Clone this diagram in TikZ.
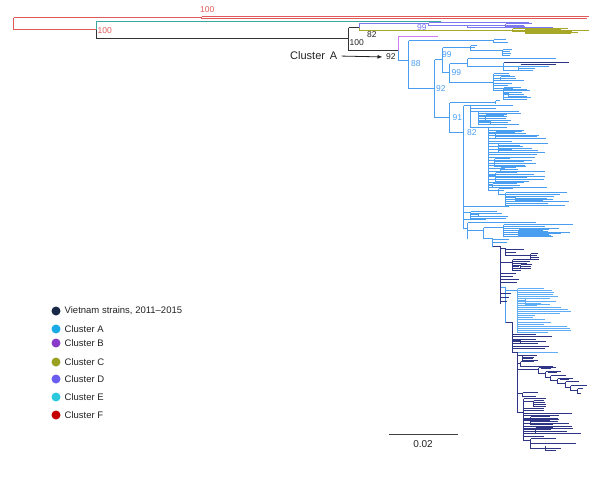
\documentclass[tikz,border=0pt]{standalone}
\usepackage{fontspec}
\setmainfont{Liberation Sans}
\usetikzlibrary{arrows.meta}
\definecolor{tF}{HTML}{E05A5A}
\definecolor{tE}{HTML}{3AA8A0}
\definecolor{tD}{HTML}{7B78F0}
\definecolor{tC}{HTML}{A8A828}
\definecolor{tB}{HTML}{D07CF0}
\definecolor{tA}{HTML}{4A9EF0}
\definecolor{tL}{HTML}{5FAEF5}
\definecolor{tN}{HTML}{2E3585}
\definecolor{tK}{HTML}{333333}
\definecolor{lN}{HTML}{1A2848}
\definecolor{lA}{HTML}{1AAAE8}
\definecolor{lB}{HTML}{8A3CC8}
\definecolor{lC}{HTML}{9AA020}
\definecolor{lD}{HTML}{6B5CF0}
\definecolor{lE}{HTML}{2EC8DC}
\definecolor{lF}{HTML}{C40000}
\definecolor{txt}{HTML}{222222}
% comb: vertical at x=#1 from #2 to #3, #4 leaves ending between #5 and #6
\newcommand\cmb[6]{%
  \draw[lc] (#1,#2) -- (#1,#3);
  \foreach \i in {1,...,#4}{%
    \pgfmathsetmacro\yy{round(#2+(\i-1)*(#3-#2)/max(#4-1,1))}%
    \pgfmathsetmacro\xe{round(#5+rnd*(#6-#5))}%
    \draw[lc] (#1,\yy) -- (\xe,\yy);
  }%
}
% sub: stem from (#1,#2) to x=#3, then comb at #3
\newcommand\sub[8]{%
  \draw[lc] (#1,#2) -- (#3,#2);
  \cmb{#3}{#4}{#5}{#6}{#7}{#8}%
}
\tikzset{
  lc/.style={},
  br/.style={line width=1.2pt, lc/.style={draw=#1}, every path/.style={draw=#1}},
  bs/.style={font=\fontsize{8.5}{10}\selectfont, inner sep=0pt, anchor=west},
  dot/.style={circle, minimum size=9pt, inner sep=0pt},
  lg/.style={font=\fontsize{9.5}{11}\selectfont, text=txt, inner sep=0pt, anchor=west}
}
\begin{document}
\begin{tikzpicture}[x=1pt,y=-1pt]
\pgfmathsetseed{7}
\useasboundingbox (0,0) rectangle (600,498);
\begin{scope}[shift={(0.5,0.5)}]
% ---- outgroups
\begin{scope}[br=tF]
  \draw (13,17) -- (13,29) -- (96,29);
  \draw (13,17) -- (201,17);
  \draw (201,16) -- (201,18);
  \draw (201,16) -- (588,16);
  \draw (201,18) -- (586,18);
\end{scope}
\begin{scope}[br=tE]
  \draw (96,29) -- (96,21) -- (440,21);
\end{scope}
\begin{scope}[br=tK]
  \draw (96,29) -- (96,38) -- (348,38);
  \draw (348,27) -- (348,50);
  \draw (348,27) -- (359,27);
  \draw (348,50) -- (398,50);
\end{scope}
% ---- cluster D
\begin{scope}[br=tD]
  \draw (359,27) -- (359,23) -- (428,23);
  \draw (428,22) -- (428,25);
  \draw (428,22) -- (528,22);
  \draw (428,25) -- (467,25);
  \draw (467,25) -- (467,27) -- (552,27);
  \cmb{505}{23}{26}{3}{522}{532}
  \draw (467,25) -- (505,25);
\end{scope}
% ---- cluster C
\begin{scope}[br=tC]
  \draw (359,27) -- (359,30) -- (588,30);
  \draw (512,28) -- (512,31);
  \draw (512,28) -- (525,28);
  \cmb{525}{28}{33}{6}{558}{578}
  \draw (512,31) -- (525,31);
\end{scope}
% ---- cluster B
\begin{scope}[br=tB]
  \draw (398,50) -- (398,36) -- (437,36);
\end{scope}
% ---- cluster A
\begin{scope}[br=tA]
  \draw (398,50) -- (398,60) -- (408,60);
  \draw (408,40) -- (408,88);
  \draw (408,40) -- (493,40);
  \draw (493,39) -- (493,42);
  \draw (493,39) -- (505,39);
  \draw (493,42) -- (507,42);
  \draw (408,88) -- (434,88);
  \draw (434,59) -- (434,117);
  \draw (434,59) -- (442,59);
  \draw (442,47) -- (442,72);
  \draw (442,47) -- (470,47);
  \draw (470,45) -- (470,50);
  \draw (470,45) -- (476,45);
  \draw (470,47) -- (474,47);
  \draw (470,50) -- (502,50);
  \cmb{502}{49}{55}{4}{507}{512}
  \draw (442,72) -- (449,72);
  \draw (449,63) -- (449,82);
  \draw (449,63) -- (467,63);
  \draw (467,58) -- (467,66);
  \draw (467,58) -- (555,58);
  \draw (467,66) -- (503,66);
  \draw (503,62) -- (503,70);
  \draw (503,66) -- (548,66);
  \draw (518,66) -- (518,70);
  \cmb{518}{68}{70}{2}{528}{540}
  \draw (503,70) -- (518,70);
  \draw (449,82) -- (493,82);
  \cmb{493}{73}{90}{8}{505}{535}
  \sub{493}{78}{500}{76}{80}{3}{512}{525}
  \draw (493,90) -- (503,90);
  \cmb{503}{87}{99}{6}{512}{530}
  \sub{503}{93}{508}{92}{96}{3}{515}{528}
  \draw (434,117) -- (449,117);
  \draw (449,102) -- (449,132);
  \draw (449,102) -- (495,102);
  \draw (495,100) -- (495,103);
  \draw (495,100) -- (499,100);
  \draw (449,132) -- (463,132);
  \draw (463,105) -- (463,228);
  % subclade at 470
  \draw (463,105) -- (470,105);
  \draw (470,105) -- (470,127);
  \draw (470,105) -- (512,105);
  \draw (470,108) -- (495,108);
  \draw (470,111) -- (478,111);
  \cmb{478}{111}{124}{7}{498}{522}
  \sub{478}{116}{485}{114}{120}{4}{498}{506}
  \sub{478}{121}{490}{120}{124}{3}{505}{518}
  \draw (470,127) -- (488,127);
  \cmb{488}{127}{190}{24}{503}{548}
  \sub{488}{133}{495}{131}{138}{4}{515}{545}
  \sub{488}{146}{498}{143}{152}{5}{518}{542}
  \sub{488}{160}{494}{158}{166}{4}{508}{525}
  \sub{488}{168}{500}{167}{171}{3}{515}{532}
  \sub{488}{175}{495}{172}{181}{5}{510}{535}
  \sub{488}{184}{492}{183}{187}{3}{505}{520}
  \draw (488,190) -- (498,190);
  \draw (498,188) -- (498,194);
  \draw (498,188) -- (512,188);
  \draw (498,194) -- (505,194);
  \cmb{505}{192}{205}{7}{545}{573}
  \sub{505}{197}{515}{196}{200}{3}{540}{560}
  \draw (463,206) -- (508,206);
  \draw (463,212) -- (470,212);
  \cmb{470}{211}{218}{4}{495}{525}
  \sub{470}{214}{478}{213}{216}{2}{500}{510}
  \draw (463,219) -- (485,219);
  \draw (463,228) -- (467,228);
  \draw (467,222) -- (467,238);
  \draw (467,222) -- (535,222);
  \draw (467,230) -- (483,230);
  \draw (483,227) -- (483,238);
  \draw (483,227) -- (503,227);
  \cmb{503}{224}{236}{7}{540}{573}
  \sub{503}{232}{518}{229}{235}{4}{545}{562}
  \draw (483,238) -- (492,238);
  \draw (492,238) -- (492,246);
  \draw (492,239) -- (508,239);
  \draw (492,242) -- (506,242);
  \draw (500,287) -- (505,287);
  \draw (505,287) -- (505,322);
  \draw (505,290) -- (517,290);
\end{scope}
\begin{scope}[br=tL]
  \cmb{517}{288}{332}{22}{530}{575}
  \sub{517}{300}{525}{298}{304}{3}{540}{555}
  \draw (512,352) -- (557,352);
\end{scope}
% ---- Vietnam strains (navy)
\begin{scope}[br=tN]
  \draw (503,62) -- (568,62);
  \draw (520,64) -- (555,64);
  \draw (492,246) -- (500,246);
  \draw (500,246) -- (500,303);
  \draw (500,248) -- (505,248);
  \draw (505,248) -- (505,255);
  \draw (505,249) -- (523,249);
  \draw (505,252) -- (515,252);
  \draw (505,255) -- (530,255);
  \cmb{530}{253}{259}{4}{536}{540}
  \draw (500,262) -- (512,262);
  \cmb{512}{259}{270}{6}{518}{533}
  \sub{512}{265}{520}{264}{268}{3}{528}{534}
  \draw (500,273) -- (515,273);
  \draw (500,276) -- (512,276);
  \draw (500,279) -- (518,279);
  \draw (500,282) -- (516,282);
  \draw (500,293) -- (510,293);
  \draw (500,297) -- (508,297);
  \draw (500,301) -- (506,301);
  \draw (505,322) -- (512,322);
  \draw (512,322) -- (512,352);
  \cmb{512}{334}{348}{7}{525}{555}
  \sub{512}{340}{520}{339}{343}{3}{535}{550}
  \draw (512,352) -- (517,352);
  \draw (517,352) -- (517,412);
  \draw (517,355) -- (522,355);
  \cmb{522}{355}{360}{4}{530}{537}
  \draw (517,363) -- (520,363);
  \draw (520,361) -- (520,366);
  \draw (520,361) -- (533,361);
  \draw (520,366) -- (552,366);
  \draw (517,369) -- (538,369);
  \draw (538,367) -- (538,373);
  \draw (538,367) -- (555,367);
  \draw (538,373) -- (545,373);
  \draw (545,371) -- (545,377);
  \draw (545,371) -- (560,371);
  \draw (545,377) -- (550,377);
  \draw (550,375) -- (550,380);
  \draw (550,375) -- (565,375);
  \draw (550,380) -- (557,380);
  \draw (557,378) -- (557,383);
  \draw (557,378) -- (572,378);
  \draw (557,383) -- (565,383);
  \draw (565,381) -- (565,387);
  \draw (565,381) -- (578,381);
  \draw (565,387) -- (570,387);
  \draw (570,385) -- (570,390);
  \draw (570,385) -- (586,385);
  \draw (570,390) -- (577,390);
  \draw (577,388) -- (577,393);
  \draw (577,388) -- (582,388);
  \draw (577,393) -- (580,393);
  \draw (540,368) -- (550,368);
  \draw (547,372) -- (556,372);
  \draw (559,379) -- (568,379);
  \draw (517,393) -- (522,393);
  \draw (522,392) -- (522,396);
  \draw (522,392) -- (537,392);
  \draw (522,396) -- (535,396);
  \draw (517,412) -- (523,412);
  \draw (523,398) -- (523,440);
  \draw (523,398) -- (545,398);
  \draw (523,401) -- (533,401);
  \cmb{533}{400}{406}{4}{543}{548}
  \draw (523,408) -- (543,408);
  \cmb{523}{410}{436}{11}{540}{582}
  \sub{523}{419}{530}{416}{424}{4}{545}{560}
  \sub{523}{429}{535}{427}{433}{4}{548}{556}
  \draw (523,440) -- (530,440);
  \draw (530,438) -- (530,448);
  \draw (530,438) -- (555,438);
  \draw (530,443) -- (575,443);
  \draw (530,448) -- (560,448);
  \draw (545,445) -- (545,450);
  \draw (545,450) -- (555,450);
\end{scope}
\end{scope}
% ---- bootstrap labels
\node[bs,text=tF] (b1) at (200,10) {100};
\node[bs,text=tF] (b2) at (97.5,30.5) {100};
\node[bs,text=black!85] (b3) at (349.5,42.5) {100};
\node[bs,text=black!85] (b4) at (367,35) {82};
\node[bs,text=tD] (b5) at (417,28) {99};
\node[bs,text=black!85] (b6) at (386,57) {92};
\node[bs,text=tA] (b7) at (411,64) {88};
\node[bs,text=tA] (b8) at (442,55) {99};
\node[bs,text=tA] (b9) at (451.5,72.5) {99};
\node[bs,text=tA] (b10) at (436,89) {92};
\node[bs,text=tA] (b11) at (452.5,118) {91};
\node[bs,text=tA] (b12) at (467,133) {82};
\node[font=\fontsize{11}{13}\selectfont, text=txt, inner sep=1pt, anchor=west] (clA) at (289,56) {Cluster\hspace{0.45em}A};
\draw[-{Latex[length=5pt,width=4pt]}, line width=0.8pt, txt, shorten <=3pt, shorten >=3.5pt] (clA.east) -- (b6.west);
% ---- legend
\node[dot,fill=lN] (d1) at (56,311) {};
\node[dot,fill=lA] (d2) at (56,329) {};
\node[dot,fill=lB] (d3) at (56,343) {};
\node[dot,fill=lC] (d4) at (56,362) {};
\node[dot,fill=lD] (d5) at (56,379) {};
\node[dot,fill=lE] (d6) at (56,397) {};
\node[dot,fill=lF] (d7) at (56,415) {};
\node[lg] (t1) at (64.5,311) {Vietnam strains, 2011–2015};
\node[lg] (t2) at (64.5,329) {Cluster A};
\node[lg] (t3) at (64.5,343) {Cluster B};
\node[lg] (t4) at (64.5,362) {Cluster C};
\node[lg] (t5) at (64.5,379) {Cluster D};
\node[lg] (t6) at (64.5,397) {Cluster E};
\node[lg] (t7) at (64.5,415) {Cluster F};
% ---- scale bar
\coordinate (s1) at (389,434.5);
\coordinate (s2) at (458,434.5);
\draw[line width=1.1pt, black!75] (s1) -- (s2);
\node[font=\fontsize{10}{12}\selectfont, text=txt, inner sep=0pt] (sc) at (423,444) {0.02};
\end{tikzpicture}
\end{document}
